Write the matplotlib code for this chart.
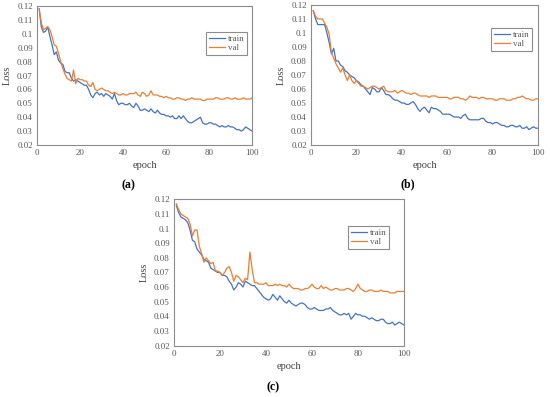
import matplotlib
matplotlib.use("Agg")
import matplotlib.pyplot as plt

plt.rcParams['font.family'] = ['Liberation Serif', 'DejaVu Serif']

epochs = list(range(1, 101))

train_a = [.118, .105, .101, .102, .105, .098, .092, .085, .087, .081,
           .079, .078, .073, .072, .072, .068, .066, .067, .066, .065,
           .064, .063, .063, .060, .056, .054, .057, .058, .056, .057,
           .055, .057, .056, .055, .053, .057, .052, .049, .050, .050,
           .049, .049, .050, .048, .047, .050, .048, .045, .045, .046,
           .045, .044, .046, .044, .043, .045, .043, .042, .042, .041,
           .041, .040, .041, .039, .039, .041, .039, .041, .039, .037,
           .036, .036, .037, .038, .039, .040, .036, .035, .035, .036,
           .036, .035, .035, .034, .033, .034, .033, .033, .034, .033,
           .033, .032, .031, .031, .030, .031, .033, .032, .031, .030]
val_a = [.118, .108, .103, .104, .105, .103, .098, .092, .091, .086,
         .080, .075, .071, .068, .067, .066, .074, .064, .068, .067,
         .067, .066, .066, .063, .062, .065, .060, .059, .060, .061,
         .060, .059, .059, .058, .057, .058, .057, .056, .056, .057,
         .056, .056, .057, .057, .057, .058, .056, .055, .058, .057,
         .055, .056, .059, .056, .056, .056, .055, .055, .054, .055,
         .054, .054, .053, .053, .054, .054, .053, .053, .052, .053,
         .053, .054, .053, .053, .053, .053, .052, .052, .053, .053,
         .053, .053, .054, .054, .053, .053, .053, .054, .054, .053,
         .053, .054, .053, .053, .053, .054, .053, .053, .053, .054]

train_b = [.116, .110, .106, .106, .106, .106, .100, .093, .085, .089,
           .080, .080, .077, .076, .073, .072, .070, .069, .068, .066,
           .065, .063, .062, .060, .058, .056, .061, .060, .058, .058,
           .061, .059, .056, .056, .055, .053, .052, .052, .051, .050,
           .050, .049, .049, .050, .051, .049, .046, .044, .046, .047,
           .045, .043, .047, .046, .046, .045, .044, .042, .042, .042,
           .042, .041, .040, .040, .040, .039, .041, .042, .039, .038,
           .038, .038, .038, .038, .039, .039, .037, .036, .036, .035,
           .036, .036, .035, .034, .034, .033, .033, .034, .034, .033,
           .033, .034, .032, .032, .033, .031, .032, .033, .032, .032]
val_b = [.116, .112, .110, .110, .110, .107, .104, .099, .086, .082,
         .078, .075, .072, .075, .070, .066, .070, .066, .064, .066,
         .064, .062, .062, .061, .060, .061, .062, .062, .061, .060,
         .061, .062, .059, .058, .058, .058, .059, .057, .058, .059,
         .058, .057, .057, .056, .057, .057, .056, .055, .055, .055,
         .055, .054, .055, .055, .055, .054, .054, .054, .054, .054,
         .053, .053, .054, .054, .054, .053, .053, .052, .053, .055,
         .054, .054, .054, .053, .054, .054, .053, .053, .053, .053,
         .052, .052, .053, .053, .053, .052, .052, .052, .053, .053,
         .054, .054, .055, .054, .053, .053, .052, .052, .053, .053]

train_c = [.116, .111, .108, .107, .106, .104, .099, .092, .091, .086,
           .084, .082, .079, .078, .077, .073, .072, .071, .070, .070,
           .068, .068, .067, .064, .062, .058, .060, .063, .062, .060,
           .064, .063, .062, .061, .061, .059, .057, .055, .053, .052,
           .051, .052, .055, .053, .051, .054, .052, .050, .049, .051,
           .049, .048, .047, .048, .049, .049, .048, .046, .045, .045,
           .046, .045, .044, .044, .044, .045, .045, .046, .044, .043,
           .042, .041, .041, .042, .041, .042, .038, .040, .042, .041,
           .041, .040, .040, .039, .038, .039, .038, .037, .037, .038,
           .038, .036, .035, .035, .036, .034, .035, .036, .035, .034]
val_c = [.117, .113, .110, .109, .108, .107, .103, .095, .099, .099,
         .088, .083, .077, .080, .078, .076, .077, .071, .071, .070,
         .068, .070, .073, .074, .070, .064, .068, .067, .065, .063,
         .066, .065, .084, .072, .063, .063, .062, .062, .062, .063,
         .061, .061, .061, .062, .061, .062, .061, .061, .060, .062,
         .060, .059, .059, .059, .058, .058, .059, .059, .060, .062,
         .060, .059, .059, .061, .059, .060, .059, .058, .058, .059,
         .059, .058, .058, .058, .059, .059, .058, .057, .059, .062,
         .059, .058, .057, .057, .058, .058, .057, .057, .057, .058,
         .057, .057, .057, .056, .056, .056, .057, .057, .057, .057]

# tag, train, val, axes rect, legend anchor, tag position (pixels)
panels = [
    ("(a)", train_a, val_a, [0.0673, 0.6348, 0.391, 0.350], (0.977, 0.813), (128, 185)),
    ("(b)", train_b, val_b, [0.5655, 0.6348, 0.4127, 0.3526], (0.974, 0.836), (408, 184)),
    ("(c)", train_c, val_c, [0.3164, 0.1297, 0.418, 0.368], (0.935, 0.818), (273, 387)),
]

fig = plt.figure(figsize=(5.5, 3.97), dpi=100)
grey = "#8c8c8c"
txt = "#595959"

for tag, tr, va, rect, leg_pos, tag_xy in panels:
    ax = fig.add_axes(rect)
    ax.plot(epochs, tr, color="#4472C4", lw=0.9, label="train")
    ax.plot(epochs, va, color="#ED7D31", lw=0.9, label="val")
    ax.set_xlim(0, 100)
    ax.set_ylim(0.02, 0.12)
    ax.set_xticks([0, 20, 40, 60, 80, 100])
    ax.set_yticks([0.02, 0.03, 0.04, 0.05, 0.06, 0.07, 0.08, 0.09, 0.1, 0.11, 0.12])
    ax.set_yticklabels(["0.02", "0.03", "0.04", "0.05", "0.06", "0.07", "0.08",
                        "0.09", "0.1", "0.11", "0.12"])
    ax.tick_params(length=0, labelsize=6.5, labelcolor=txt, pad=3)
    for s in ax.spines.values():
        s.set_color(grey)
        s.set_linewidth(0.8)
    ax.set_xlabel("epoch", fontsize=7.5, color="#404040", labelpad=3)
    ax.set_ylabel("Loss", fontsize=7.5, color="#404040", labelpad=4)
    leg = ax.legend(loc="upper right", bbox_to_anchor=leg_pos, fontsize=6.5,
                    fancybox=False, edgecolor=grey, framealpha=1,
                    handlelength=1.8, handletextpad=0.3, borderpad=0.3,
                    labelspacing=0.1, borderaxespad=0)
    leg.get_frame().set_linewidth(0.8)
    for t in leg.get_texts():
        t.set_color(txt)
    fig.text(tag_xy[0] / 550, 1 - tag_xy[1] / 397, tag, ha="center", va="center",
             fontsize=8.5, fontweight="bold", color="black")

fig.savefig("out.png", dpi=100)
